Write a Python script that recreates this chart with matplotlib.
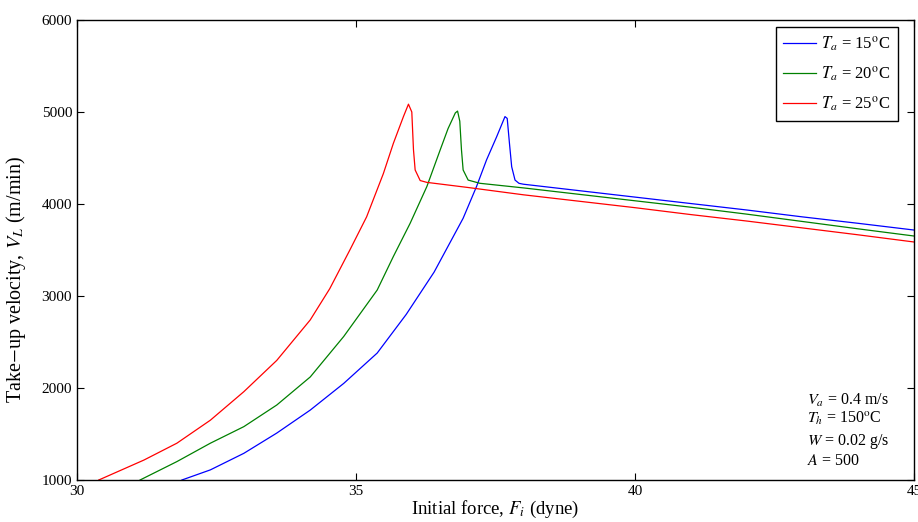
import numpy as np
import matplotlib
matplotlib.use('Agg')
import matplotlib.pyplot as plt

plt.rcParams['font.family'] = ['Liberation Serif', 'DejaVu Serif']
plt.rcParams['mathtext.fontset'] = 'stix'

# values
f_15 = [31.88, 32.39, 32.99, 33.58, 34.18, 34.78, 35.38, 35.9, 36.4, 36.92, 37.16, 37.34, 37.52,
        37.67, 37.71, 37.75, 37.79, 37.85, 37.92, 38.0, 39.0, 40.0, 41.0, 42.0, 43.0, 44.0, 45.0]
v_15 = [1000, 1110, 1290, 1510, 1760, 2050, 2380, 2800, 3260, 3845, 4190, 4480, 4730,
        4950, 4930, 4660, 4405, 4260, 4225, 4215, 4145, 4075, 4005, 3935, 3860, 3790, 3717]

f_20 = [31.13, 31.79, 32.39, 32.99, 33.58, 34.18, 34.78, 35.38, 35.67, 35.97, 36.27, 36.51, 36.65,
        36.78, 36.82, 36.86, 36.89, 36.92, 37.01, 37.22, 38.0, 39.0, 40.0, 41.0, 42.0, 43.0, 44.0, 45.0]
v_20 = [1000, 1200, 1400, 1580, 1815, 2120, 2560, 3065, 3430, 3790, 4190, 4590, 4820,
        4990, 5010, 4900, 4590, 4370, 4260, 4225, 4175, 4105, 4035, 3965, 3890, 3810, 3730, 3652]

f_25 = [30.39, 31.2, 31.79, 32.39, 32.99, 33.58, 34.18, 34.53, 34.89, 35.19, 35.49, 35.67, 35.85,
        35.94, 36.0, 36.03, 36.06, 36.15, 36.27, 37.0, 38.0, 39.0, 40.0, 41.0, 42.0, 43.0, 44.0, 45.0]
v_25 = [1000, 1217, 1400, 1650, 1960, 2300, 2740, 3080, 3500, 3860, 4330, 4660, 4950,
        5085, 5000, 4590, 4370, 4255, 4235, 4180, 4100, 4030, 3960, 3885, 3815, 3740, 3665, 3587]

labels = [r'$T_{a}$ = 15$^{\rm o}$C', r'$T_{a}$ = 20$^{\rm o}$C', r'$T_{a}$ = 25$^{\rm o}$C']
colors = ['#0000ff', '#008000', '#ff0000']

fig = plt.figure(figsize=(9.18, 5.22), dpi=100)
ax = fig.add_axes([77 / 918, 42 / 522, 837 / 918, 460 / 522])

for f, v, lab, c in zip([f_15, f_20, f_25], [v_15, v_20, v_25], labels, colors):
    ax.plot(f, v, color=c, linewidth=0.9, label=lab)

ax.set_xlim(30, 45)
ax.set_ylim(1000, 6000)
ax.set_xticks([30, 35, 40, 45])
ax.set_yticks([1000, 2000, 3000, 4000, 5000, 6000])
ax.tick_params(direction='in', top=True, right=True, labelsize=11, length=5, width=0.8)
for s in ax.spines.values():
    s.set_linewidth(1.0)

ax.set_xlabel(r'Initial force, $F_{i}$ (dyne)', fontsize=13.5, labelpad=1)
ax.set_ylabel(r'Take$-$up velocity, $V_{L}$ (m/min)', fontsize=14.5)
ax.yaxis.set_label_coords(-0.058, 0.435)

leg = ax.legend(loc='upper right', bbox_to_anchor=(0.981, 0.985), borderaxespad=0,
                fontsize=12, frameon=True, fancybox=False, edgecolor='black',
                framealpha=1, handlelength=2.0, handletextpad=0.3,
                borderpad=0.45, labelspacing=0.65)
leg.get_frame().set_linewidth(1.0)

note = [r'$V_{a}$ = 0.4 m/s', r'$T_{h}$ = 150$^{\rm o}$C', r'$W$ = 0.02 g/s', r'$A$ = 500']
note_y = [0.174, 0.133, 0.083, 0.041]
for t, y in zip(note, note_y):
    ax.text(0.872, y, t, transform=ax.transAxes, fontsize=11.5, va='center')

fig.savefig('out.png', dpi=100)
